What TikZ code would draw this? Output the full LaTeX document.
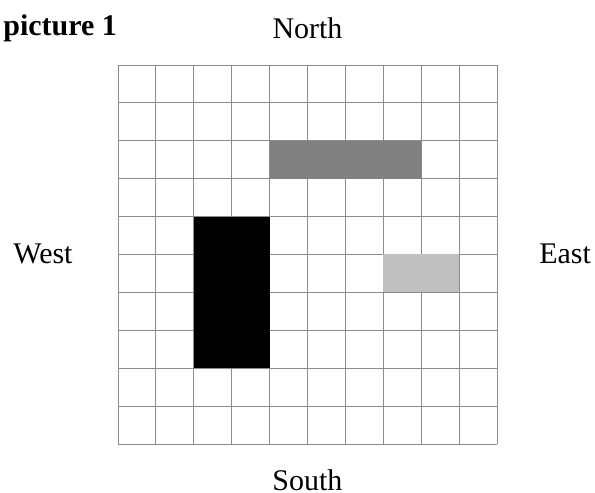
\documentclass[tikz,border=0pt]{standalone}
\usepackage{fontspec}
\setmainfont{Liberation Serif}
\usepackage{tikz}
\usetikzlibrary{positioning}
\definecolor{blockdark}{HTML}{808080}
\definecolor{blocklight}{HTML}{C0C0C0}
\definecolor{gridgray}{HTML}{8C8C8C}

\begin{document}
\begin{tikzpicture}[
 gridline/.style={draw=gridgray,line width=0.6pt},
 block/.style={draw=none},
 compass/.style={font=\fontsize{22.5}{27}\selectfont,inner sep=0pt,anchor=base},
 title/.style={font=\fontsize{22.5}{27}\selectfont\bfseries,inner sep=0pt,anchor=base west}]
\useasboundingbox (-3.114,-1.293) rectangle (12.588,11.715);
% the board
\draw[gridline] (0,0) grid (10,10);
\fill[block,fill=blockdark] (4,7) rectangle (8,8);
\fill[block,fill=black] (2,2) rectangle (4,6);
\fill[block,fill=blocklight] (7,4) rectangle (9,5);
% labels
\node[title] (pic) at (-3.03,10.79) {picture 1};
\node[compass] (north) at (5,10.71) {North};
\node[compass] (south) at (5,-1.24) {South};
\node[compass] (west) at (-1.98,4.75) {West};
\node[compass] (east) at (11.80,4.75) {East};
\end{tikzpicture}
\end{document}
